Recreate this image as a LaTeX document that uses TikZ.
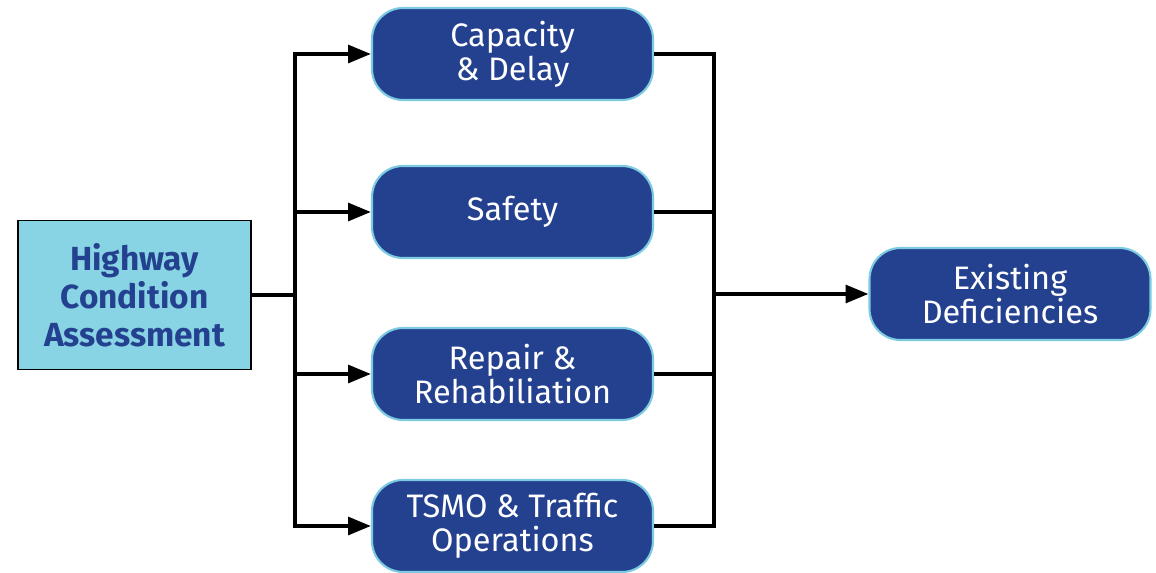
\documentclass[tikz,border=0pt]{standalone}
\usepackage{fontspec}
\setmainfont{Fira Sans}
\usetikzlibrary{arrows.meta, positioning, calc}
\definecolor{hwnavy}{HTML}{24418F}
\definecolor{hwcyan}{HTML}{88D4E4}
\definecolor{hwedge}{HTML}{7CCBE0}
\tikzset{
  srcbox/.style={draw=black, line width=1pt, fill=hwcyan, text=hwnavy, font=\fontsize{19}{21.5}\selectfont\bfseries,
    align=center, minimum width=4.66cm, minimum height=2.98cm, inner sep=0pt},
  pill/.style={draw=hwedge, line width=1.2pt, fill=hwnavy, text=white, rounded corners=0.62cm,
    font=\fontsize{18.5}{19.5}\selectfont, align=center, minimum width=5.62cm, minimum height=1.84cm, inner sep=0pt},
  wire/.style={line width=2.3pt},
  arr/.style={wire, -{Triangle[length=13pt, width=10pt]}},
}
\begin{document}
\begin{tikzpicture}[x=0.02cm, y=-0.02cm]
  \useasboundingbox (0,0) rectangle (1156,573);
  \node[srcbox] (hca) at (134.5,295) {Highway\\Condition\\Assessment};
  \node[pill] (cap) at (512.5,54) {Capacity\\\& Delay};
  \node[pill] (safe) at (512.5,212) {Safety};
  \node[pill] (repair) at (512.5,374) {Repair \&\\Rehabiliation};
  \node[pill] (tsmo) at (512.5,526) {TSMO \& Traffic\\Operations};
  \node[pill] (exist) at (1010,294) {Existing\\Deficiencies};
  \coordinate (split) at (295,295);
  \coordinate (join) at (714,294);
  % fan out
  \draw[wire] (hca.east) -- (split);
  \foreach \b in {cap, safe, repair, tsmo}
    \draw[arr] (split) |- (\b.west);
  % gather
  \foreach \b in {cap, safe, repair, tsmo}
    \draw[wire] (\b.east) -| (join);
  \draw[arr] (join) -- (exist.west);
\end{tikzpicture}
\end{document}
